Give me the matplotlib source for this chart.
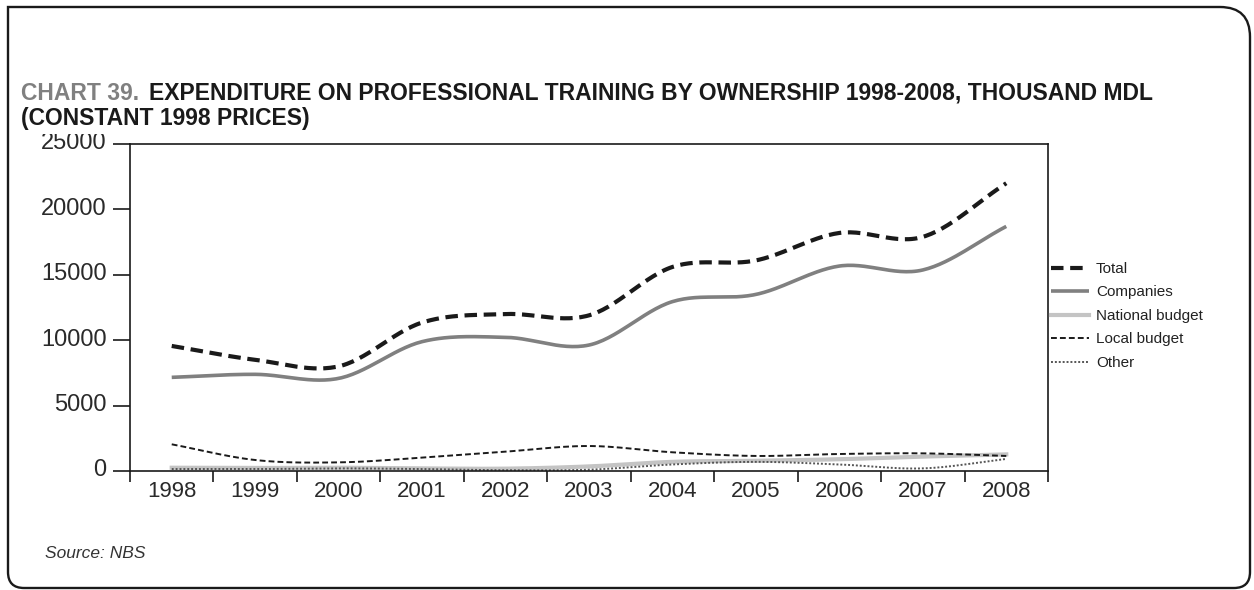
import numpy as np
import matplotlib
matplotlib.use("Agg")
import matplotlib.pyplot as plt
from matplotlib.path import Path
from matplotlib.patches import PathPatch
from matplotlib.transforms import Bbox, ScaledTranslation

years = ["1998", "1999", "2000", "2001", "2002", "2003", "2004", "2005", "2006", "2007", "2008"]
total = [9560, 8500, 8000, 11350, 12000, 11900, 15600, 16100, 18200, 17900, 22000]
companies = [7160, 7390, 7080, 9890, 10220, 9630, 12950, 13500, 15670, 15370, 18700]
national_budget = [250, 230, 250, 200, 180, 350, 700, 780, 900, 1100, 1270]
local_budget = [2040, 840, 660, 1020, 1480, 1910, 1430, 1150, 1300, 1350, 1150]
other = [150, 150, 200, 150, 60, 100, 500, 700, 500, 200, 920]
y_ticks = [0, 5000, 10000, 15000, 20000, 25000]

plt.rcParams["font.family"] = ["Liberation Sans", "DejaVu Sans"]


def smooth(xs, ys, n=30):
    """Catmull-Rom curve through the points, as a smoothed line."""
    xs = np.asarray(xs, float)
    ys = np.asarray(ys, float)
    px = np.concatenate([[2 * xs[0] - xs[1]], xs, [2 * xs[-1] - xs[-2]]])
    py = np.concatenate([[2 * ys[0] - ys[1]], ys, [2 * ys[-1] - ys[-2]]])
    ox, oy = [], []
    for i in range(1, len(px) - 2):
        t = np.linspace(0, 1, n, endpoint=False)
        for p, out in ((px, ox), (py, oy)):
            p0, p1, p2, p3 = p[i - 1], p[i], p[i + 1], p[i + 2]
            out.extend(0.5 * ((2 * p1) + (-p0 + p2) * t
                              + (2 * p0 - 5 * p1 + 4 * p2 - p3) * t ** 2
                              + (-p0 + 3 * p1 - 3 * p2 + p3) * t ** 3))
    ox.append(xs[-1])
    oy.append(ys[-1])
    return np.array(ox), np.array(oy)


W, H = 1254.0, 590.0
fig = plt.figure(figsize=(W / 100, H / 100), dpi=100)


def fx(px):
    return px / W


def fy(py):
    return 1 - py / H


# Panel frame: square top-left corner, rounded elsewhere (pixel coords from top-left)
L, T, R, B = 8, 7, 1250, 588
r_tr, r_br, r_bl = 30, 16, 16
pts = [
    (L, T), (R - r_tr, T), (R, T), (R, T + r_tr),
    (R, B - r_br), (R, B), (R - r_br, B),
    (L + r_bl, B), (L, B), (L, B - r_bl),
    (L, T),
]
codes = [Path.MOVETO, Path.LINETO, Path.CURVE3, Path.CURVE3,
         Path.LINETO, Path.CURVE3, Path.CURVE3,
         Path.LINETO, Path.CURVE3, Path.CURVE3,
         Path.CLOSEPOLY]
frame = Path([(fx(a), fy(b)) for a, b in pts], codes)
fig.patches.append(PathPatch(frame, transform=fig.transFigure, fill=False,
                             lw=1.7, edgecolor="#1a1a1a", joinstyle="miter"))

# Title
title_size = 16.5
t1 = fig.text(fx(21), fy(93), "CHART 39.", fontsize=title_size, fontweight="bold",
              color="#808080", va="center", ha="left")
fig.canvas.draw()
bb = t1.get_window_extent()
fig.text((bb.x1 + 10) / W, fy(93),
         "EXPENDITURE ON PROFESSIONAL TRAINING BY OWNERSHIP 1998-2008, THOUSAND MDL",
         fontsize=title_size, fontweight="bold", color="#1a1a1a",
         va="center", ha="left")
fig.text(fx(21), fy(118), "(CONSTANT 1998 PRICES)", fontsize=title_size,
         fontweight="bold", color="#1a1a1a", va="center", ha="left")

fig.text(fx(45), fy(553), "Source: NBS", fontsize=12.5, style="italic",
         color="#333333", va="center", ha="left")

ax = fig.add_axes([fx(130), fy(471), (1048 - 130) / W, (471 - 144) / H])
x = np.arange(len(years))

series = [
    ("Total", total, dict(color="#1a1a1a", lw=3.0, dashes=(3.0, 1.6))),
    ("Companies", companies, dict(color="#808080", lw=2.6, solid_capstyle="butt")),
    ("National budget", national_budget, dict(color="#c4c4c4", lw=3.0)),
    ("Local budget", local_budget, dict(color="#1a1a1a", lw=1.4, dashes=(3.0, 1.6))),
    ("Other", other, dict(color="#555555", lw=1.4, dashes=(1.0, 1.0))),
]
draw_order = [2, 4, 3, 1, 0]
handles = {}
for i in draw_order:
    name, vals, style = series[i]
    sx, sy = smooth(x, vals)
    (h,) = ax.plot(sx, sy, label=name, **style)
    handles[i] = h

ax.set_xlim(-0.5, len(years) - 0.5)
ax.set_ylim(0, 25000)
ax.set_yticks(y_ticks)
ax.set_yticklabels([str(v) for v in y_ticks])
ax.set_xticks(np.arange(-0.5, len(years)), labels=[])
ax.set_xticks(x, labels=years, minor=True)
ax.tick_params(axis="x", which="major", length=8, width=1.2, direction="out", color="#1a1a1a")
ax.tick_params(axis="x", which="minor", length=0, labelsize=16, pad=7, labelcolor="#2a2a2a")
ax.tick_params(axis="y", length=12, width=1.2, direction="out", labelsize=17,
               pad=5, labelcolor="#2a2a2a", color="#1a1a1a")
for s in ax.spines.values():
    s.set_linewidth(1.2)
    s.set_color("#1a1a1a")

# value labels sit a little above their ticks; the top one is cut by the band edge
lift = ScaledTranslation(0, 3 / 100, fig.dpi_scale_trans)
clip = Bbox.from_extents(0, 0, W, H - 134)
for lab in ax.get_yticklabels():
    lab.set_transform(lab.get_transform() + lift)
    if lab.get_text() == "25000":
        lab.set_clip_box(clip)
        lab.set_clip_on(True)

leg = fig.legend([handles[i] for i in range(5)], [s[0] for s in series],
                 loc="upper left", bbox_to_anchor=(fx(1051), fy(262)),
                 frameon=False, fontsize=11, handlelength=2.5, handletextpad=0.45,
                 labelspacing=0.62, borderaxespad=0, borderpad=0)
for txt in leg.get_texts():
    txt.set_color("#222222")

fig.savefig("out.png", dpi=100)
